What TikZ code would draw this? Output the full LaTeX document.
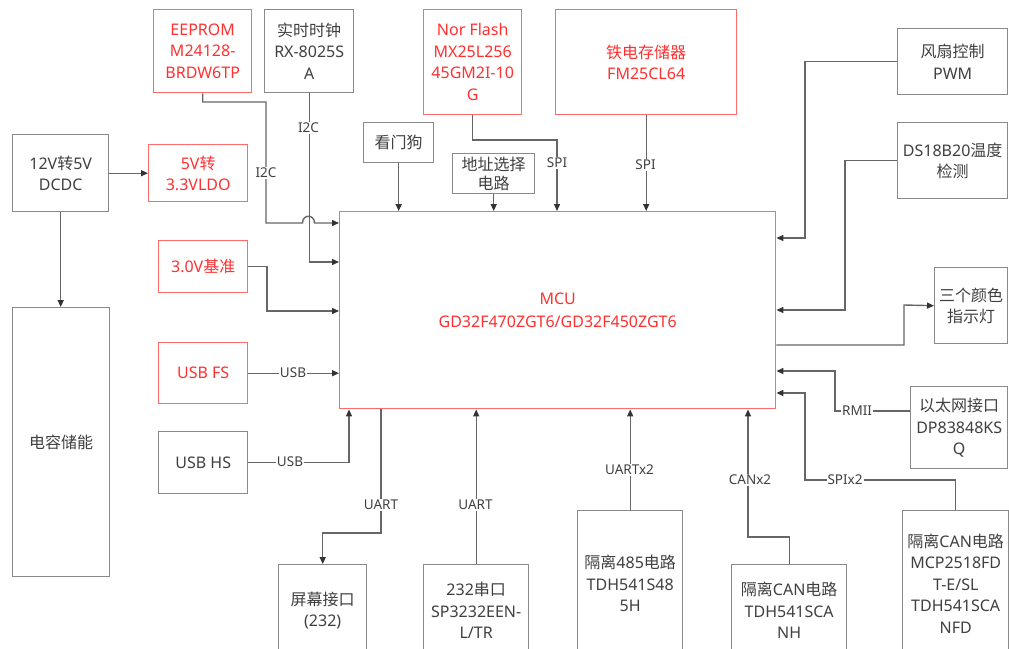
\documentclass[tikz,border=0pt]{standalone}
\usepackage{fontspec}
\setmainfont{Noto Sans}
\newfontfamily\zhfont{Noto Sans CJK SC}
\newcommand\zh[1]{{\zhfont #1}}
\usetikzlibrary{arrows.meta}
\definecolor{boxgray}{HTML}{8A8A8A}
\definecolor{linegray}{HTML}{666666}
\definecolor{arrgray}{HTML}{333333}
\definecolor{txtgray}{HTML}{404040}
\definecolor{boxred}{HTML}{FF6B6B}
\definecolor{txtred}{HTML}{FF3030}
\tikzset{
 blk/.style={draw=boxgray, line width=1.4pt, text=txtgray, align=center, inner sep=0pt,
   font=\fontsize{16}{21.5}\selectfont, anchor=north west},
 redblk/.style={blk, draw=boxred, text=txtred},
 conn/.style={draw=linegray, line width=1.4pt},
 arr/.style={conn, -{Triangle[length=7pt,width=6pt,fill=arrgray,color=arrgray]}},
 lbl/.style={fill=white, inner sep=1pt, text=txtgray, font=\fontsize{13.5}{16}\selectfont},
}
\begin{document}
\begin{tikzpicture}[x=1pt,y=-1pt]
\path[use as bounding box, clip] (0,0) rectangle (1009,648);
\fill[white] (0,0) rectangle (1009,648);
% boxes
\node[redblk, minimum width=98pt, minimum height=83pt] (eeprom) at (153,9) {EEPROM\\M24128-\\BRDW6TP};
\node[blk, minimum width=89pt, minimum height=83pt] (rtc) at (264,9) {\zh{实时时钟}\\RX-8025S\\A};
\node[redblk, minimum width=98pt, minimum height=105pt] (nor) at (423,9) {Nor Flash\\MX25L256\\45GM2I-10\\G};
\node[redblk, minimum width=181pt, minimum height=105pt] (fram) at (555,9) {\zh{铁电存储器}\\FM25CL64};
\node[blk, minimum width=70pt, minimum height=40pt] (wdg) at (363,122) {\zh{看门狗}};
\node[blk, minimum width=82pt, minimum height=40pt, font=\fontsize{16}{19.5}\selectfont] (addr) at (452,153) {\zh{地址选择}\\\zh{电路}};
\node[blk, minimum width=96pt, minimum height=77pt] (dcdc) at (12,134) {12V\zh{转}5V\\DCDC};
\node[redblk, minimum width=99pt, minimum height=57pt] (ldo) at (148,144) {5V\zh{转}\\3.3VLDO};
\node[blk, minimum width=97pt, minimum height=269pt] (cap) at (12,307) {\zh{电容储能}};
\node[redblk, minimum width=89pt, minimum height=52pt] (ref) at (158,240) {3.0V\zh{基准}};
\node[redblk, minimum width=89pt, minimum height=61pt] (usbfs) at (158,342) {USB FS};
\node[blk, minimum width=89pt, minimum height=62pt] (usbhs) at (158,431) {USB HS};
\node[redblk, minimum width=436pt, minimum height=197pt, font=\fontsize{16}{23}\selectfont] (mcu) at (339,211) {MCU\\GD32F470ZGT6/GD32F450ZGT6};
\node[blk, minimum width=110pt, minimum height=66pt] (pwm) at (897,28) {\zh{风扇控制}\\PWM};
\node[blk, minimum width=110pt, minimum height=76pt] (ds) at (897,122) {DS18B20\zh{温度}\\\zh{检测}};
\node[blk, minimum width=73pt, minimum height=76pt] (led) at (934,267) {\zh{三个颜色}\\\zh{指示灯}};
\node[blk, minimum width=97pt, minimum height=82pt] (eth) at (910,386) {\zh{以太网接口}\\DP83848KS\\Q};
\node[blk, minimum width=88pt, minimum height=92pt] (screen) at (278,564) {\zh{屏幕接口}\\(232)};
\node[blk, minimum width=105pt, minimum height=92pt] (s232) at (423,564) {232\zh{串口}\\SP3232EEN-\\L/TR};
\node[blk, minimum width=105pt, minimum height=146pt] (rs485) at (577,510) {\zh{隔离}485\zh{电路}\\TDH541S48\\5H};
\node[blk, minimum width=115pt, minimum height=92pt] (can1) at (731,564) {\zh{隔离}CAN\zh{电路}\\TDH541SCA\\NH};
\node[blk, minimum width=106pt, minimum height=146pt] (can2) at (902,510) {\zh{隔离}CAN\zh{电路}\\MCP2518FD\\T-E/SL\\TDH541SCA\\NFD};
% connectors
\draw[arr] (dcdc) -- (ldo);
\draw[arr] (dcdc.south) -- (dcdc.south |- cap.north);
\draw[arr] (eeprom.south) |- (266,102) -- (266,223) -- (302.5,223)
  .. controls (302.5,214) and (314.5,214) .. (314.5,223) -- (mcu.west |- 0,223);
\draw[arr] (rtc.south) -- (rtc.south |- 0,262) -- (mcu.west |- 0,262);
\draw[arr] (wdg.south) -- (wdg.south |- mcu.north);
\draw[arr] (addr.south) -- (addr.south |- mcu.north);
\draw[arr] (nor.south) |- (557,140) -- (mcu.north -| 557,0);
\draw[arr] (fram.south) -- (fram.south |- mcu.north);
\draw[arr] (pwm.west) -| (805,238) -- (mcu.east |- 0,238);
\draw[arr] (ds.west) -| (845,310) -- (mcu.east |- 0,310);
\draw[arr] (mcu.east |- 0,345) -| (904,305) -- (led.west);
\draw[arr] (eth.west |- 0,411) -| (835,371) -- (mcu.east |- 0,371);
\draw[arr] (can2.north) |- (805,480) -- (805,393) -- (mcu.east |- 0,393);
\draw[arr] (ref.east) -| (267,311) -- (mcu.west |- 0,311);
\draw[arr] (usbfs.east) -- (mcu.west |- usbfs.east);
\draw[arr] (usbhs.east) -| (mcu.south -| 349,0);
\draw[arr] (mcu.south -| 381,0) -- (381,533) -| (screen.north);
\draw[arr] (s232.north) -- (s232.north |- mcu.south);
\draw[arr] (rs485.north) -- (rs485.north |- mcu.south);
\draw[arr] (can1.north) |- (748,537) -- (mcu.south -| 748,0);
% labels
\node[lbl] (l1) at (266,173) {I2C};
\node[lbl] (l2) at (308.5,128) {I2C};
\node[lbl] (l3) at (557,163) {SPI};
\node[lbl] (l4) at (645.5,165) {SPI};
\node[lbl] (l5) at (857,411) {RMII};
\node[lbl] (l6) at (845,480) {SPIx2};
\node[lbl] (l7) at (293,373) {USB};
\node[lbl] (l8) at (290,462) {USB};
\node[lbl] (l9) at (381,505) {UART};
\node[lbl] (l10) at (475.5,505) {UART};
\node[lbl] (l11) at (629.5,470) {UARTx2};
\node[lbl] (l12) at (750,480) {CANx2};
\end{tikzpicture}
\end{document}
